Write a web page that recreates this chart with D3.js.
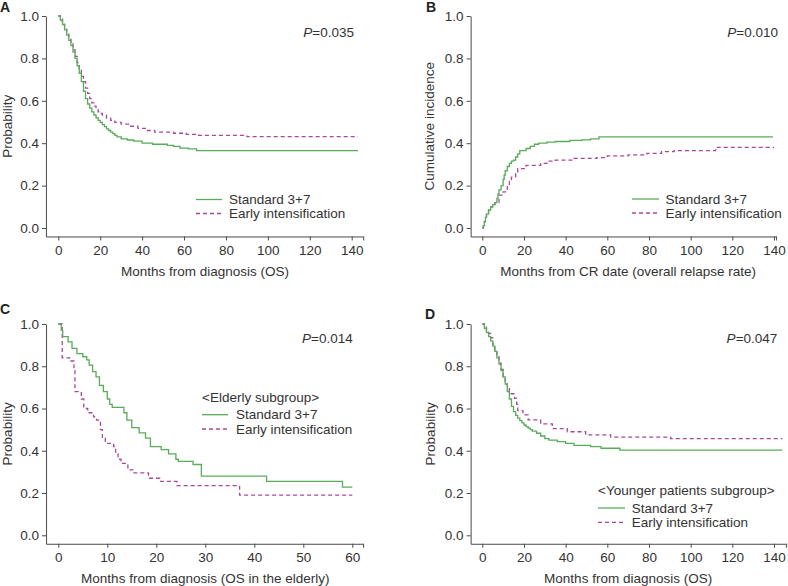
<!DOCTYPE html>
<html>
<head>
<meta charset="utf-8">
<script src="https://cdn.jsdelivr.net/npm/d3@7"></script>
<style>
  html, body { margin: 0; padding: 0; background: #fff; }
  svg { display: block; font-family: "Liberation Sans", Arial, Helvetica, sans-serif; }
  .axis path, .axis line { stroke: #4a4a4a; stroke-width: 1; }
  .axis text { fill: #333; font-size: 13.5px; font-family: "Liberation Sans", Arial, sans-serif; }
</style>
</head>
<body>
<svg id="chart" width="788" height="586"></svg>
<script>
// ---------------- DATA ----------------
const seriesNames = ["Standard 3+7", "Early intensification"];
const xTicksLong = [0, 20, 40, 60, 80, 100, 120, 140];
const xTicksShort = [0, 10, 20, 30, 40, 50, 60];
const yTicks = [0, 0.2, 0.4, 0.6, 0.8, 1.0];
const pValues = ["0.035", "0.010", "0.014", "0.047"];
const subgroupTitles = ["", "", "<Elderly subgroup>", "<Younger patients subgroup>"];

// Panel A: overall survival [month, probability]
const osStandard = [[0,1],[1,0.98],[2,0.96],[3,0.935],[4,0.91],[5,0.885],[6,0.86],[7,0.83],[8,0.80],[9,0.765],
  [10,0.73],[11,0.69],[12,0.645],[13,0.61],[14,0.585],[15,0.565],[16,0.548],[17,0.533],[18,0.52],[19,0.508],
  [20,0.498],[21,0.488],[22,0.478],[23,0.468],[24,0.46],[25,0.452],[26,0.445],[27,0.437],[28,0.43],[30,0.42],
  [33,0.415],[36,0.41],[40,0.40],[45,0.395],[52,0.39],[55,0.385],[58,0.377],[62,0.373],[66,0.365],[143,0.365]];
const osEarly = [[0,1],[1,0.985],[2,0.965],[3,0.945],[4,0.92],[5,0.895],[6,0.87],[7,0.84],[8,0.81],[9,0.78],
  [10,0.745],[11,0.715],[12,0.69],[13,0.66],[14,0.635],[15,0.61],[16,0.59],[17,0.575],[18,0.56],[19,0.548],
  [20,0.54],[21,0.532],[23,0.518],[25,0.508],[27,0.498],[30,0.49],[34,0.48],[38,0.47],[42,0.46],[46,0.452],
  [55,0.447],[61,0.442],[67,0.437],[90,0.431],[143,0.431]];

// Panel B: cumulative incidence of relapse
const relStandard = [[0,0],[0.5,0.01],[1,0.03],[1.5,0.05],[2,0.065],[3,0.085],[4,0.10],[5,0.11],[6,0.12],[7,0.14],
  [7.5,0.16],[8,0.18],[9,0.20],[10,0.23],[10.5,0.25],[11,0.27],[12,0.29],[13,0.305],[14,0.315],[15,0.32],
  [16,0.335],[17,0.35],[18,0.365],[21,0.375],[23,0.385],[25,0.395],[27,0.40],[31,0.405],[35,0.408],[42,0.413],
  [48,0.416],[52,0.42],[56,0.43],[139.5,0.43]];
const relEarly = [[0,0],[0.5,0.01],[1,0.03],[1.5,0.05],[2,0.065],[3,0.085],[4,0.10],[5,0.11],[6,0.12],[8,0.155],
  [10,0.17],[12,0.20],[13,0.22],[14,0.24],[16,0.26],[17,0.28],[21,0.295],[28,0.305],[31,0.315],[35,0.32],
  [44,0.328],[55,0.332],[60,0.34],[70,0.345],[79,0.352],[86,0.36],[92,0.365],[112,0.38],[140,0.38]];

// Panel C: OS in the elderly
const elderStandard = [[0,1],[0.6,0.97],[0.9,0.94],[2.0,0.915],[2.8,0.885],[3.8,0.86],[5.0,0.845],[5.8,0.83],
  [6.3,0.805],[7.0,0.775],[7.7,0.75],[8.4,0.71],[9.2,0.68],[10.0,0.645],[10.5,0.62],[11.0,0.605],[13.4,0.58],
  [14.0,0.545],[15.0,0.51],[16.5,0.485],[17.8,0.46],[18.8,0.42],[21.0,0.405],[22.5,0.385],[24.0,0.36],
  [24.5,0.35],[27.5,0.335],[29.2,0.28],[42.5,0.255],[58.0,0.228],[60,0.228]];
const elderEarly = [[0,1],[0.8,0.84],[2.3,0.825],[3.2,0.78],[3.4,0.68],[4.7,0.645],[5.2,0.60],[6.0,0.58],
  [7.2,0.56],[7.8,0.545],[8.6,0.50],[9.0,0.46],[9.6,0.435],[11.3,0.42],[11.7,0.39],[12.2,0.36],[12.8,0.34],
  [14.2,0.31],[15.2,0.295],[18.4,0.27],[20.7,0.255],[24.2,0.235],[37.0,0.19],[60,0.19]];

// Panel D: OS in younger patients
const youngStandard = [[0,1],[1,0.98],[2,0.96],[3,0.94],[4,0.92],[5,0.895],[6,0.87],[7,0.84],[8,0.81],[9,0.78],
  [10,0.75],[11,0.715],[12,0.68],[13,0.645],[14,0.61],[15,0.585],[16,0.568],[17,0.555],[18,0.543],[19,0.532],
  [20,0.522],[21,0.514],[22,0.507],[23,0.5],[24,0.493],[26,0.483],[28,0.47],[30,0.458],[32,0.45],[36,0.443],
  [40,0.435],[44,0.426],[52,0.42],[57,0.412],[66,0.403],[144,0.403]];
const youngEarly = [[0,1],[1,0.985],[2,0.97],[3,0.955],[4,0.935],[5,0.905],[6,0.875],[7,0.845],[8,0.815],
  [9,0.785],[10,0.75],[11,0.725],[12,0.705],[13,0.67],[15.5,0.648],[16.5,0.62],[17,0.59],[19.5,0.57],[22,0.546],
  [28,0.527],[33.6,0.505],[40.8,0.49],[49.6,0.475],[61.6,0.465],[90.4,0.458],[144,0.458]];

// ---------------- LAYOUT ----------------
const colors = ["#5aab5a", "#a8489c"];
const dashes = [null, "4,3"];

const panels = [
  { letter: "A", lx: 0, ly: 12, xr: [58.3, 351.7], xMax: 140, xLo: -5.9, xHi: 145.5, yr: [228, 16], ticks: xTicksLong,
    yLabel: "Probability", ylx: 12, xLabel: "Months from diagnosis (OS)", xlY: 276,
    pX: 354, pY: 37, data: [osStandard, osEarly],
    leg: { x0: 196, x1: 222, tx: 229, y: [199.5, 213.5], title: subgroupTitles[0], pv: pValues[0] } },
  { letter: "B", lx: 426, ly: 12, xr: [482.3, 774], xMax: 140, xLo: -5.6, xHi: 141, yr: [228, 16], ticks: xTicksLong,
    yLabel: "Cumulative incidence", ylx: 434, xLabel: "Months from CR date (overall relapse rate)", xlY: 276,
    pX: 778, pY: 37, data: [relStandard, relEarly],
    leg: { x0: 632, x1: 659, tx: 665.5, y: [199, 213], title: subgroupTitles[1], pv: pValues[1] } },
  { letter: "C", lx: 0, ly: 313.5, xr: [58.3, 352.3], xMax: 60, xLo: -2.5, xHi: 62.2, yr: [535.3, 324], ticks: xTicksShort,
    yLabel: "Probability", ylx: 12, xLabel: "Months from diagnosis (OS in the elderly)", xlY: 583,
    pX: 352.7, pY: 343, data: [elderStandard, elderEarly],
    leg: { x0: 202, x1: 228, tx: 236, y: [414.7, 429], title: subgroupTitles[2], titleY: 397.5, pv: pValues[2] } },
  { letter: "D", lx: 425, ly: 319, xr: [482.3, 774], xMax: 140, xLo: -5.6, xHi: 145.8, yr: [535.3, 324], ticks: xTicksLong,
    yLabel: "Probability", ylx: 435, xLabel: "Months from diagnosis (OS)", xlY: 583,
    pX: 777.3, pY: 343, data: [youngStandard, youngEarly],
    leg: { x0: 598, x1: 625, tx: 631.7, y: [508, 522.3], title: subgroupTitles[3], titleY: 490, pv: pValues[3] } }
];

const svg = d3.select("#chart");
const FS = 13.5;

panels.forEach(p => {
  const x = d3.scaleLinear().domain([0, p.xMax]).range(p.xr);
  const y = d3.scaleLinear().domain([0, 1]).range(p.yr);
  const yLo = -0.04;

  const g = svg.append("g");

  // Y axis
  const yAxisScale = y.copy().domain([yLo, 1]).range([y(yLo), y(1)]);
  g.append("g").attr("class", "axis")
    .attr("transform", `translate(${x(p.xLo)},0)`)
    .call(d3.axisLeft(yAxisScale).tickValues(yTicks).tickFormat(d3.format(".1f")).tickSize(4).tickSizeOuter(0).tickPadding(3));

  // X axis (with end tick at right)
  const xAxisScale = x.copy().domain([p.xLo, p.xHi]).range([x(p.xLo), x(p.xHi)]);
  const xt = p.ticks.concat([p.xHi]);
  g.append("g").attr("class", "axis")
    .attr("transform", `translate(0,${y(yLo)})`)
    .call(d3.axisBottom(xAxisScale).tickValues(xt)
      .tickFormat(d => (d === p.xHi ? "" : d)).tickSize(4).tickSizeOuter(0).tickPadding(5));
  g.selectAll(".axis .domain").attr("stroke", "#4a4a4a");

  // Curves
  const line = d3.line().x(d => x(d[0])).y(d => y(d[1])).curve(d3.curveStepAfter);
  [1, 0].forEach(i => {
    g.append("path").datum(p.data[i])
      .attr("d", line)
      .attr("fill", "none")
      .attr("stroke", colors[i])
      .attr("stroke-width", 1.3)
      .attr("stroke-dasharray", dashes[i]);
  });

  // Axis titles
  const midY = (y(yLo) + y(1)) / 2;
  g.append("text")
    .attr("transform", `translate(${p.ylx},${midY}) rotate(-90)`)
    .attr("text-anchor", "middle").attr("fill", "#333").attr("font-size", FS)
    .text(p.yLabel);
  g.append("text")
    .attr("x", (x(0) + x(p.xMax)) / 2).attr("y", p.xlY)
    .attr("text-anchor", "middle").attr("fill", "#333").attr("font-size", FS)
    .text(p.xLabel);

  // Panel letter
  g.append("text").attr("x", p.lx).attr("y", p.ly)
    .attr("font-weight", "bold").attr("font-size", 14).attr("fill", "#222")
    .text(p.letter);

  // P value
  const pt = g.append("text").attr("x", p.pX).attr("y", p.pY)
    .attr("text-anchor", "end").attr("fill", "#333").attr("font-size", FS);
  pt.append("tspan").attr("font-style", "italic").text("P");
  pt.append("tspan").text("=" + p.leg.pv);

  // Legend
  if (p.leg.title) {
    g.append("text").attr("x", p.leg.x0).attr("y", p.leg.titleY).attr("dy", "0.35em")
      .attr("fill", "#333").attr("font-size", FS).text(p.leg.title);
  }
  seriesNames.forEach((name, i) => {
    g.append("line")
      .attr("x1", p.leg.x0).attr("x2", p.leg.x1)
      .attr("y1", p.leg.y[i]).attr("y2", p.leg.y[i])
      .attr("stroke", colors[i]).attr("stroke-width", 1.3)
      .attr("stroke-dasharray", dashes[i]);
    g.append("text").attr("x", p.leg.tx).attr("y", p.leg.y[i]).attr("dy", "0.35em")
      .attr("fill", "#333").attr("font-size", FS).text(name);
  });
});
</script>
</body>
</html>
